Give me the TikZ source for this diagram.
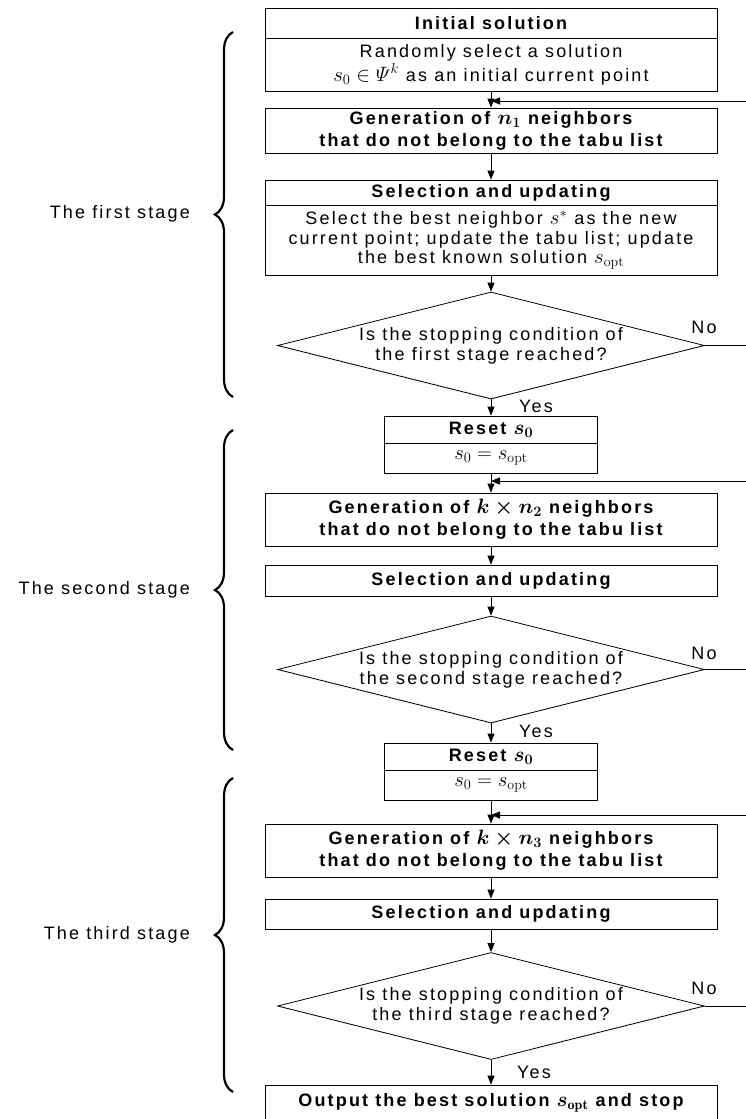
\documentclass[tikz,border=0pt]{standalone}
\usepackage{amsmath}
\usepackage{fontspec}
\newfontfamily\flowfont{Liberation Sans}[LetterSpace=12]
\DeclareMathSizes{18}{20}{14}{11}
\usetikzlibrary{shapes.geometric,arrows.meta,decorations.pathreplacing,positioning}

\tikzset{
    txt/.style={font=\flowfont\fontsize{18}{22}\selectfont},
    box/.style={txt, draw, line width=0.8pt, minimum width=452pt, inner sep=0pt, align=center},
    rbox/.style={box, minimum width=213pt},
    test/.style={txt, draw, diamond, aspect=4, line width=0.8pt, minimum width=427pt, minimum height=107pt, inner sep=0pt, align=center},
    flow/.style={line width=0.8pt, -{Triangle[length=9pt,width=7pt]}},
    lbl/.style={txt, inner sep=0pt},
}

\begin{document}
\begin{tikzpicture}[x=1pt,y=-1pt]
    \useasboundingbox (0,0) rectangle (746,1119);

    % first stage
    \node[box, minimum height=30pt] (init) at (491,23) {\bfseries Initial solution};
    \node[box, minimum height=53pt, font=\flowfont\fontsize{18}{24}\selectfont] (initb) at (491,64.5) {Randomly select a solution\\$s_0 \in \varPsi^k$ as an initial current point};
    \node[box, minimum height=45pt] (gen1) at (491,130.5) {\bfseries Generation of {\boldmath$n_1$} neighbors\\\bfseries that do not belong to the tabu list};
    \node[box, minimum height=25pt] (sel1) at (491,192.5) {\bfseries Selection and updating};
    \node[box, minimum height=70pt, font=\flowfont\fontsize{18}{19.5}\selectfont] (sel1b) at (491,240) {Select the best neighbor $s^*$ as the new\\current point; update the tabu list; update\\the best known solution $s_{\mathrm{opt}}$};
    \node[test, font=\flowfont\fontsize{18}{20}\selectfont] (d1) at (491,345.5) {Is the stopping condition of\\the first stage reached?};

    % second stage
    \node[rbox, minimum height=27pt] (reset1) at (491,429.5) {\bfseries Reset {\boldmath$s_0$}};
    \node[rbox, minimum height=30pt] (reset1b) at (491,458) {$s_0 = s_{\mathrm{opt}}$};
    \node[box, minimum height=53pt] (gen2) at (491,519.5) {\bfseries Generation of {\boldmath$k \times n_2$} neighbors\\\bfseries that do not belong to the tabu list};
    \node[box, minimum height=31pt] (sel2) at (491,580.5) {\bfseries Selection and updating};
    \node[test, font=\flowfont\fontsize{18}{20}\selectfont] (d2) at (491,669.5) {Is the stopping condition of\\the second stage reached?};

    % third stage
    \node[rbox, minimum height=27pt] (reset2) at (491,756.5) {\bfseries Reset {\boldmath$s_0$}};
    \node[rbox, minimum height=30pt] (reset2b) at (491,785) {$s_0 = s_{\mathrm{opt}}$};
    \node[box, minimum height=53pt] (gen3) at (491,850.5) {\bfseries Generation of {\boldmath$k \times n_3$} neighbors\\\bfseries that do not belong to the tabu list};
    \node[box, minimum height=30pt] (sel3) at (491,914) {\bfseries Selection and updating};
    \node[test, font=\flowfont\fontsize{18}{20}\selectfont] (d3) at (491,1006) {Is the stopping condition of\\the third stage reached?};
    \node[box, minimum height=36pt] (out) at (491,1103) {\bfseries Output the best solution {\boldmath$s_{\mathrm{opt}}$} and stop};

    % loop ends at the right border
    \coordinate (r1) at (746,101);
    \coordinate (r2) at (746,481);
    \coordinate (r3) at (746,815);
    \coordinate (m1) at (gen1.north |- r1);
    \coordinate (m2) at (gen2.north |- r2);
    \coordinate (m3) at (gen3.north |- r3);
    \coordinate (n1) at (746,345.5);
    \coordinate (n2) at (746,669.5);
    \coordinate (n3) at (746,1006);

    \draw[flow] (initb) -- (gen1);
    \draw[flow] (gen1) -- (sel1);
    \draw[flow] (sel1b) -- (d1);
    \draw[flow] (d1) -- (reset1);
    \draw[flow] (reset1b) -- (gen2);
    \draw[flow] (gen2) -- (sel2);
    \draw[flow] (sel2) -- (d2);
    \draw[flow] (d2) -- (reset2);
    \draw[flow] (reset2b) -- (gen3);
    \draw[flow] (gen3) -- (sel3);
    \draw[flow] (sel3) -- (d3);
    \draw[flow] (d3) -- (out);

    \draw[flow] (r1) -- (m1);
    \draw[flow] (r2) -- (m2);
    \draw[flow] (r3) -- (m3);
    \draw[line width=0.8pt] (d1.east) -- (n1);
    \draw[line width=0.8pt] (d2.east) -- (n2);
    \draw[line width=0.8pt] (d3.east) -- (n3);

    \node[lbl] (no1) at (704,327) {No};
    \node[lbl] (no2) at (704,653) {No};
    \node[lbl] (no3) at (704,988) {No};
    \node[lbl] (yes1) at (536,406.5) {Yes};
    \node[lbl] (yes2) at (536,731.5) {Yes};
    \node[lbl] (yes3) at (534,1072.5) {Yes};

    % stage braces
    \foreach \stg/\ya/\yb/\ym in {first/32/397/214, second/430/750/590, third/778/1092/935} {
        \draw[line width=2.2pt, decorate, decoration={brace, amplitude=18pt}] (233,\yb) -- (233,\ya);
        \node[lbl, anchor=east] (\stg) at (190,\ym) {The \stg\ stage};
    }
\end{tikzpicture}
\end{document}
